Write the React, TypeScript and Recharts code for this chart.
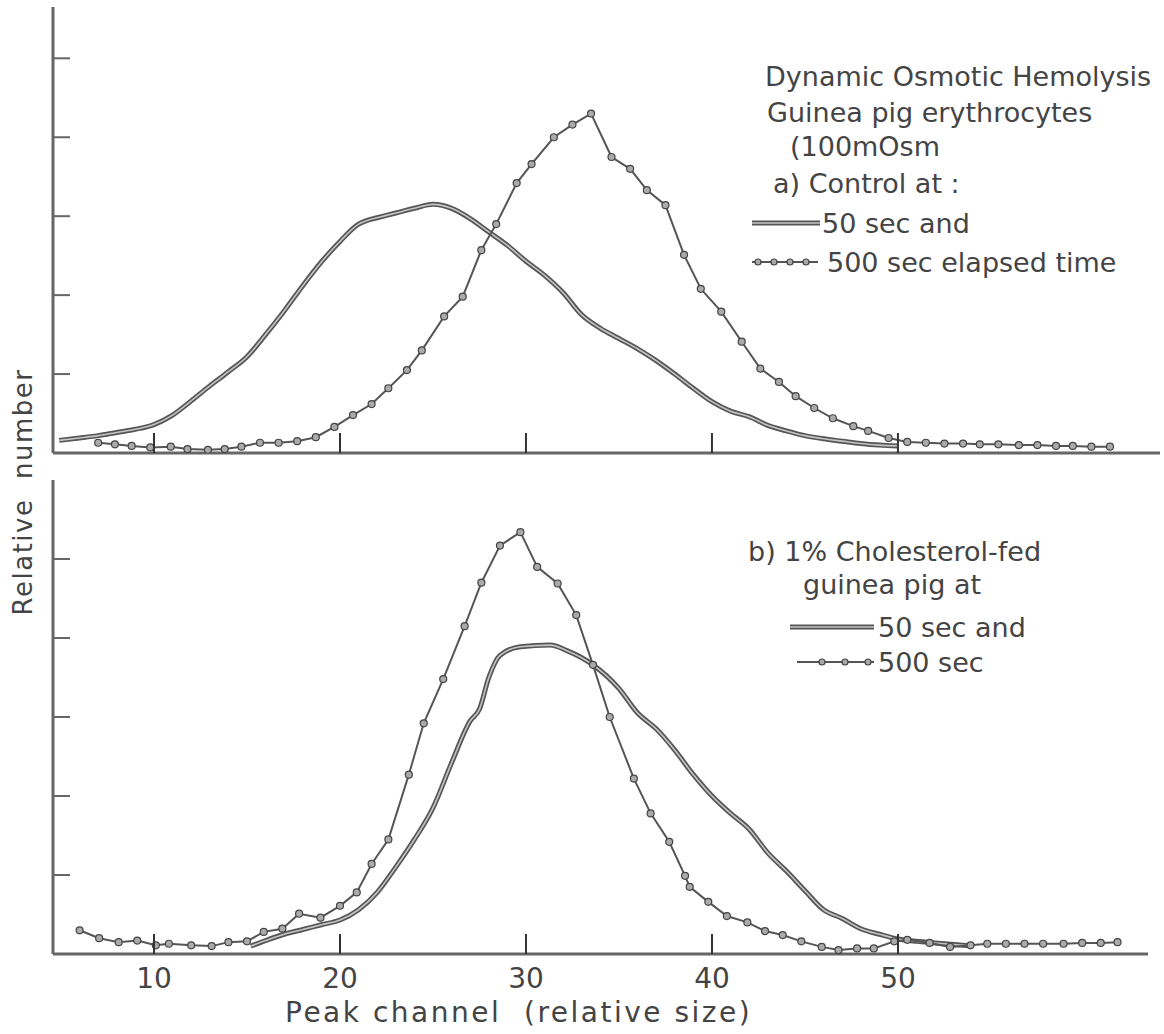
import React from "react"
import { LineChart, Line, XAxis, YAxis } from "recharts"

// (a) control, 50 sec
const TOP_50_X = [4.9, 6, 7, 8, 9, 10, 11, 12, 13, 14, 15, 16, 17, 18, 19, 20, 21, 21.5, 22, 23, 24, 25, 26, 27, 28, 29, 30, 31, 32, 33, 34, 35, 36, 37, 38, 39, 40, 41, 42, 43, 44, 45, 46, 47, 48, 49, 50]
const TOP_50_Y = [0.16, 0.19, 0.22, 0.26, 0.3, 0.36, 0.48, 0.66, 0.85, 1.03, 1.22, 1.5, 1.8, 2.12, 2.42, 2.68, 2.9, 2.95, 2.98, 3.04, 3.1, 3.15, 3.1, 2.97, 2.8, 2.63, 2.43, 2.25, 2.03, 1.75, 1.58, 1.45, 1.32, 1.17, 1.0, 0.82, 0.65, 0.53, 0.46, 0.35, 0.28, 0.22, 0.18, 0.15, 0.12, 0.1, 0.09]

// (a) control, 500 sec
const TOP_500_X = [7.0, 7.9, 8.8, 9.8, 10.9, 11.8, 12.9, 13.8, 14.7, 15.7, 16.7, 17.7, 18.7, 19.7, 20.7, 21.7, 22.6, 23.6, 24.4, 25.6, 26.6, 27.6, 28.4, 29.5, 30.3, 31.5, 32.5, 33.5, 34.6, 35.6, 36.5, 37.5, 38.5, 39.4, 40.5, 41.6, 42.6, 43.6, 44.5, 45.5, 46.5, 47.6, 48.4, 49.5, 50.5, 51.5, 52.5, 53.5, 54.4, 55.4, 56.5, 57.5, 58.5, 59.4, 60.4, 61.4]
const TOP_500_Y = [0.13, 0.11, 0.09, 0.07, 0.08, 0.05, 0.04, 0.05, 0.08, 0.13, 0.13, 0.15, 0.2, 0.33, 0.48, 0.62, 0.82, 1.05, 1.3, 1.73, 1.98, 2.57, 2.9, 3.42, 3.66, 4.0, 4.16, 4.3, 3.75, 3.6, 3.33, 3.14, 2.51, 2.08, 1.79, 1.41, 1.07, 0.9, 0.72, 0.57, 0.44, 0.34, 0.28, 0.19, 0.14, 0.13, 0.12, 0.12, 0.11, 0.11, 0.1, 0.1, 0.09, 0.09, 0.08, 0.08]

// (b) cholesterol-fed, 50 sec
const BOT_50_X = [15.2, 16, 17, 18, 19, 20, 21, 22, 23, 24, 25, 26, 27, 27.5, 28, 28.6, 29.7, 31.3, 32.2, 33.6, 35, 36, 37, 38, 39, 40, 41, 42, 43, 44, 45, 46, 47, 48, 49, 50, 51, 52, 53, 54]
const BOT_50_Y = [0.1, 0.17, 0.25, 0.31, 0.37, 0.43, 0.56, 0.78, 1.1, 1.45, 1.85, 2.42, 2.95, 3.1, 3.5, 3.78, 3.89, 3.91, 3.84, 3.66, 3.36, 3.05, 2.85, 2.58, 2.27, 2.0, 1.78, 1.58, 1.28, 1.05, 0.8, 0.56, 0.45, 0.32, 0.25, 0.19, 0.16, 0.14, 0.12, 0.1]

// (b) cholesterol-fed, 500 sec
const BOT_500_X = [6.0, 7.05, 8.1, 9.1, 10.1, 10.8, 12.0, 13.1, 14.0, 15.0, 15.9, 16.9, 17.8, 18.95, 20.0, 20.9, 21.7, 22.6, 23.7, 24.5, 25.55, 26.7, 27.6, 28.6, 29.7, 30.6, 31.7, 32.7, 33.6, 34.5, 35.8, 36.7, 37.7, 38.55, 38.8, 39.8, 40.8, 41.9, 42.85, 43.8, 44.8, 45.9, 46.8, 47.8, 48.7, 49.8, 50.5, 51.7, 52.8, 53.9, 54.8, 55.8, 56.8, 57.8, 58.9, 59.9, 60.9, 61.8]
const BOT_500_Y = [0.3, 0.2, 0.15, 0.17, 0.11, 0.13, 0.11, 0.1, 0.15, 0.16, 0.28, 0.32, 0.51, 0.46, 0.61, 0.78, 1.14, 1.45, 2.27, 2.92, 3.48, 4.15, 4.7, 5.17, 5.34, 4.9, 4.69, 4.29, 3.66, 3.0, 2.22, 1.78, 1.42, 0.99, 0.85, 0.66, 0.48, 0.4, 0.29, 0.24, 0.16, 0.09, 0.05, 0.07, 0.07, 0.16, 0.18, 0.14, 0.09, 0.11, 0.13, 0.13, 0.13, 0.13, 0.13, 0.14, 0.14, 0.15]

const X_TICKS = [10, 20, 30, 40, 50]
const Y_TICKS = [1, 2, 3, 4, 5]

const toRows = (xs: number[], ys: number[]) => xs.map((x, i) => ({ x, y: ys[i] }))

const FONT = "DejaVu Sans"
const INK = "#444"
const AXIS = "#666"

const XTick = (props: any) => {
  const { x, y, payload, showLabel } = props
  return (
    <g>
      <line x1={x} y1={y} x2={x} y2={y - 20} stroke="#333" strokeWidth={2} />
      {showLabel && (
        <text x={x} y={y + 34} textAnchor="middle" fontFamily={FONT} fontSize={28} fill={INK}>
          {payload.value}
        </text>
      )}
    </g>
  )
}

const YTick = (props: any) => {
  const { x, y } = props
  return <line x1={x} y1={y} x2={x + 17} y2={y} stroke={AXIS} strokeWidth={2} />
}

const dotStyle = { r: 3.5, fill: "#aaa", stroke: "#444", strokeWidth: 1.2 }

function Panel(props: { solid: any[]; dotted: any[]; yMax: number; xMax: number; height: number; margin: any; labels: boolean; xAxisHeight: number }) {
  const { solid, dotted, yMax, xMax, height, margin, labels, xAxisHeight } = props
  return (
    <LineChart width={1164} height={height} margin={margin}>
      <XAxis
        type="number"
        dataKey="x"
        domain={[4.57, xMax]}
        ticks={X_TICKS}
        interval={0}
        allowDataOverflow
        height={xAxisHeight}
        tickSize={0}
        tickMargin={0}
        tickLine={false}
        axisLine={{ stroke: AXIS, strokeWidth: 3 }}
        tick={(p: any) => <XTick {...p} showLabel={labels} />}
      />
      <YAxis
        type="number"
        dataKey="y"
        domain={[0, yMax]}
        ticks={Y_TICKS}
        interval={0}
        allowDataOverflow
        width={1}
        tickSize={0}
        tickMargin={0}
        tickLine={false}
        axisLine={{ stroke: AXIS, strokeWidth: 3 }}
        tick={(p: any) => <YTick {...p} />}
      />
      <Line data={solid} dataKey="y" type="monotone" stroke="#555" strokeWidth={5} dot={false} isAnimationActive={false} />
      <Line data={solid} dataKey="y" type="monotone" stroke="#c4c4c4" strokeWidth={1.6} dot={false} isAnimationActive={false} />
      <Line data={dotted} dataKey="y" type="linear" stroke="#555" strokeWidth={2} dot={dotStyle} isAnimationActive={false} />
    </LineChart>
  )
}

const txt = { fontFamily: FONT, fontSize: 27, fill: INK } as const

export default function App() {
  const top50 = toRows(TOP_50_X, TOP_50_Y)
  const top500 = toRows(TOP_500_X, TOP_500_Y)
  const bot50 = toRows(BOT_50_X, BOT_50_Y)
  const bot500 = toRows(BOT_500_X, BOT_500_Y)

  return (
    <div style={{ position: "absolute", left: 0, top: 0, width: 1164, height: 1034, background: "#fff" }}>
      <div style={{ position: "absolute", left: 0, top: 0 }}>
        <Panel solid={top50} dotted={top500} yMax={5.65} xMax={64.09} height={470}
          margin={{ top: 7, right: 4, left: 52, bottom: 16 }} labels={false} xAxisHeight={1} />
      </div>
      <div style={{ position: "absolute", left: 0, top: 470 }}>
        <Panel solid={bot50} dotted={bot500} yMax={6.0} xMax={63.44} height={564}
          margin={{ top: 10, right: 16, left: 52, bottom: 20 }} labels={true} xAxisHeight={60} />
      </div>
      <svg width={1164} height={1034} style={{ position: "absolute", left: 0, top: 0, pointerEvents: "none" }}>
        {/* panel a legend */}
        <text x={765} y={86} {...txt}>Dynamic Osmotic Hemolysis</text>
        <text x={767} y={122} {...txt}>Guinea pig erythrocytes</text>
        <text x={790} y={156} {...txt}>(100mOsm</text>
        <text x={773} y={193} {...txt}>a) Control at :</text>
        <line x1={752} y1={223} x2={820} y2={223} stroke="#555" strokeWidth={5} />
        <line x1={752} y1={223} x2={820} y2={223} stroke="#c4c4c4" strokeWidth={1.6} />
        <text x={822} y={233} {...txt}>50 sec and</text>
        <line x1={752} y1={262} x2={818} y2={262} stroke="#555" strokeWidth={2} />
        {[758, 774, 790, 806].map((cx) => (
          <circle key={cx} cx={cx} cy={262} r={3} fill="#aaa" stroke="#444" strokeWidth={1.2} />
        ))}
        <text x={827} y={272} {...txt}>500 sec elapsed time</text>

        {/* panel b legend */}
        <text x={748} y={561} {...txt}>b) 1% Cholesterol-fed</text>
        <text x={803} y={594} {...txt}>guinea pig at</text>
        <line x1={790} y1={627} x2={874} y2={627} stroke="#555" strokeWidth={5} />
        <line x1={790} y1={627} x2={874} y2={627} stroke="#c4c4c4" strokeWidth={1.6} />
        <text x={878} y={637} {...txt}>50 sec and</text>
        <line x1={797} y1={662} x2={874} y2={662} stroke="#555" strokeWidth={2} />
        {[822, 845, 868].map((cx) => (
          <circle key={cx} cx={cx} cy={662} r={3} fill="#aaa" stroke="#444" strokeWidth={1.2} />
        ))}
        <text x={878} y={672} {...txt}>500 sec</text>

        {/* axis titles */}
        <text x={285} y={1022} fontFamily={FONT} fontSize={28} letterSpacing={2.5} fill={INK} xmlSpace="preserve">Peak channel  (relative size)</text>
        <text x={0} y={0} transform="translate(32 492) rotate(-90)" textAnchor="middle" fontFamily={FONT} fontSize={26} letterSpacing={1.5} fill={INK} xmlSpace="preserve">Relative  number</text>
      </svg>
    </div>
  )
}
